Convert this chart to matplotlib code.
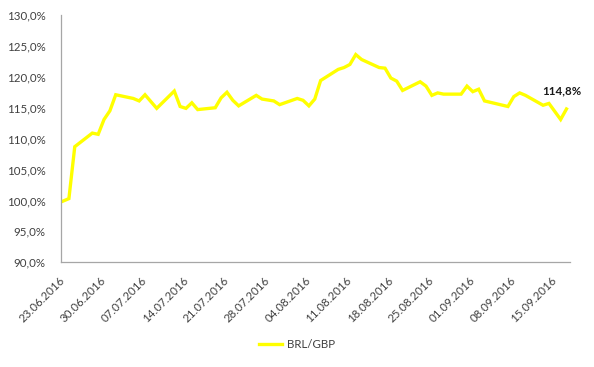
import matplotlib
matplotlib.use("Agg")
import matplotlib.pyplot as plt
import matplotlib.dates as mdates
import pandas as pd

# Data (vertices of the BRL/GBP index line, %)
dates = ["2016-06-23", "2016-06-24", "2016-06-25", "2016-06-28", "2016-06-29",
         "2016-06-30", "2016-07-01", "2016-07-02", "2016-07-05", "2016-07-06",
         "2016-07-07", "2016-07-09", "2016-07-12", "2016-07-13", "2016-07-14",
         "2016-07-15", "2016-07-16", "2016-07-19", "2016-07-20", "2016-07-21",
         "2016-07-22", "2016-07-23", "2016-07-26", "2016-07-27", "2016-07-29",
         "2016-07-30", "2016-08-02", "2016-08-03", "2016-08-04", "2016-08-05",
         "2016-08-06", "2016-08-09", "2016-08-10", "2016-08-11", "2016-08-12",
         "2016-08-13", "2016-08-16", "2016-08-17", "2016-08-18", "2016-08-19",
         "2016-08-20", "2016-08-23", "2016-08-24", "2016-08-25", "2016-08-26",
         "2016-08-27", "2016-08-30", "2016-08-31", "2016-09-01", "2016-09-02",
         "2016-09-03", "2016-09-07", "2016-09-08", "2016-09-09", "2016-09-10",
         "2016-09-13", "2016-09-14", "2016-09-16", "2016-09-17"]
values = [99.9, 100.3, 108.7, 110.9, 110.7,
          113.1, 114.5, 117.1, 116.5, 116.1,
          117.1, 114.9, 117.7, 115.2, 114.9,
          115.8, 114.7, 115.0, 116.6, 117.5,
          116.2, 115.3, 117.0, 116.4, 116.1,
          115.5, 116.5, 116.2, 115.3, 116.4,
          119.4, 121.2, 121.5, 122.0, 123.6,
          122.8, 121.5, 121.4, 119.8, 119.3,
          117.8, 119.2, 118.5, 117.0, 117.4,
          117.2, 117.2, 118.5, 117.6, 118.0,
          116.1, 115.2, 116.8, 117.4, 117.0,
          115.4, 115.7, 113.1, 114.8]
series_name = "BRL/GBP"
last_label = "114,8%"
tick_dates = ["2016-06-23", "2016-06-30", "2016-07-07", "2016-07-14", "2016-07-21",
              "2016-07-28", "2016-08-04", "2016-08-11", "2016-08-18", "2016-08-25",
              "2016-09-01", "2016-09-08", "2016-09-15"]
y_ticks = [90, 95, 100, 105, 110, 115, 120, 125, 130]

x = pd.to_datetime(dates)
xt = pd.to_datetime(tick_dates)

plt.rcParams['font.family'] = ['Lato', 'DejaVu Sans']

fig = plt.figure(figsize=(5.94, 3.67), dpi=100)
ax = fig.add_axes([61/594, 1-262.3/367, (570-61)/594, (262.3-15)/367])

ax.plot(x, values, color="#FFFF00", lw=2.4, label=series_name, solid_joinstyle="miter")

x0 = mdates.date2num(pd.Timestamp("2016-06-23"))
ax.set_xlim(x0 - 0.35, x0 + 86.6)
ax.set_ylim(90, 130)

ax.set_yticks(y_ticks)
ax.set_yticklabels([f"{v:.1f}%".replace(".", ",") for v in y_ticks])
ax.set_xticks(xt)
ax.set_xticklabels([d.strftime("%d.%m.%Y") for d in xt], rotation=45,
                   ha="right", va="center", rotation_mode="anchor")

ax.tick_params(axis="both", length=0, labelsize=8.3, colors="#404040")
ax.tick_params(axis="y", pad=11)
ax.tick_params(axis="x", pad=12)

for s in ["top", "right"]:
    ax.spines[s].set_visible(False)
for s in ["left", "bottom"]:
    ax.spines[s].set_color("#A6A6A6")
    ax.spines[s].set_linewidth(0.9)

ax.annotate(last_label, (x[-1], values[-1]), xytext=(-3, 9), textcoords="offset points",
            ha="center", va="bottom", fontsize=8.3, fontweight="bold", color="#1a1a1a")

leg = fig.legend(loc="center", bbox_to_anchor=(297/594, 1-345/367), frameon=False,
                 fontsize=8.3, handlelength=2.0, handletextpad=0.4, labelcolor="#404040")

fig.savefig("out.png", dpi=100)
